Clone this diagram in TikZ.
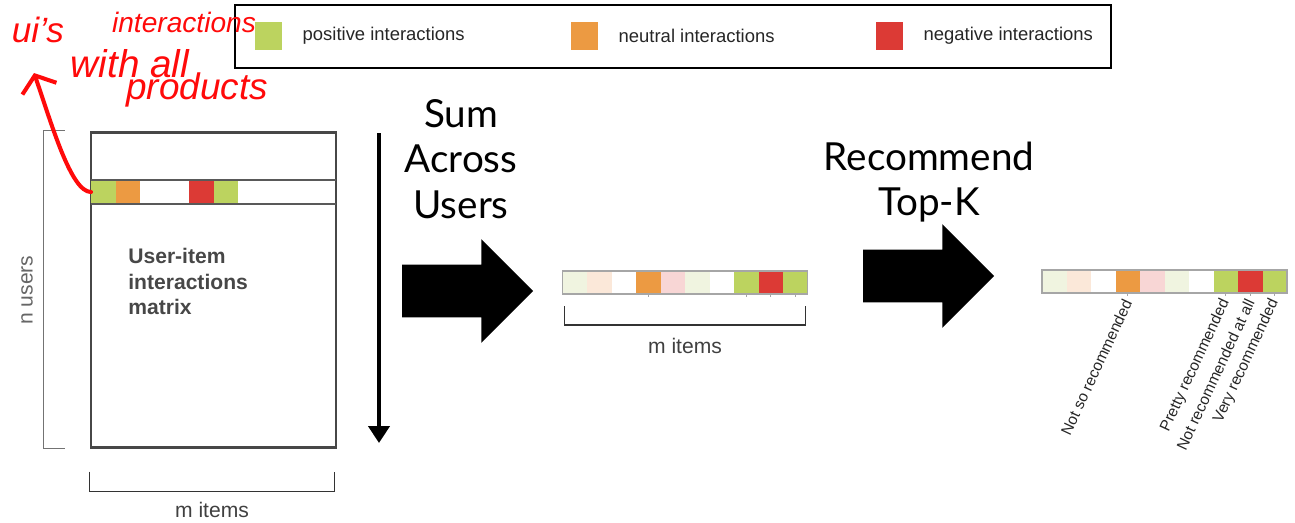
\documentclass[tikz,border=0pt]{standalone}
\usepackage{fontspec}
\setmainfont{Liberation Sans}
\newfontfamily\stepfont{Lato}
\usetikzlibrary{positioning,shapes.arrows,arrows.meta}
\definecolor{posgreen}{HTML}{BCD35F}
\definecolor{neuorange}{HTML}{EC9A42}
\definecolor{negred}{HTML}{DC3A35}
\definecolor{palegreen}{HTML}{F0F4E0}
\definecolor{palepeach}{HTML}{FBE8D9}
\definecolor{palepink}{HTML}{F8D6D5}
\definecolor{framegray}{HTML}{474747}
\definecolor{handred}{HTML}{FF0A0A}
\newcommand{\pxu}{0.02cm}
\newcommand{\fsz}[2]{\fontsize{#1}{#2}\selectfont}

\tikzset{
  swatch/.style={minimum width=27*\pxu, minimum height=28*\pxu, inner sep=0pt},
  legtext/.style={font=\fsz{10.5}{12}, text=black!85, inner sep=0pt, anchor=west},
  cell/.style={minimum width=24.5*\pxu, minimum height=23*\pxu, inner sep=0pt, outer sep=0pt, anchor=west},
  stripbox/.style={minimum width=245*\pxu, minimum height=23*\pxu, inner sep=0pt, outer sep=0pt},
  matbox/.style={draw=framegray, line width=1.7pt, minimum width=245*\pxu, minimum height=315*\pxu, inner sep=0pt},
  rowline/.style={draw=framegray!90, line width=1.1pt},
  barframe/.style={draw=black!35, line width=0.8pt},
  brack/.style={line width=1.1pt, draw=black!80},
  itemtext/.style={font=\fsz{12}{14}, text=black!75},
  steptext/.style={font=\stepfont\fsz{22}{26}, align=center},
  bigarrow/.style={single arrow, fill=black, minimum height=131*\pxu, inner xsep=0pt, inner ysep=26*\pxu,
    single arrow head extend=25.5*\pxu},
  ticklabel/.style={font=\fsz{8.8}{10}, rotate=65, anchor=east, inner sep=0pt, text=black!85},
  hand/.style={text=handred, inner sep=0pt}
}

\begin{document}
\begin{tikzpicture}[x=\pxu, y=-\pxu]
\useasboundingbox (0,0) rectangle (1295,522);

\node[draw, line width=1.1pt, minimum width=876*\pxu, minimum height=63*\pxu, inner sep=0pt] (legend) at (673,36.5) {};
\node[swatch, fill=posgreen] (swpos) at (268.5,36) {};
\node[legtext, right=0.4cm of swpos] (txpos) {positive interactions};
\node[swatch, fill=neuorange] (swneu) at (584.5,36) {};
\node[legtext, right=0.4cm of swneu] (txneu) {neutral interactions};
\node[swatch, fill=negred] (swneg) at (889.5,36) {};
\node[legtext, right=0.4cm of swneg] (txneg) {negative interactions};

\node[matbox] (mat) at (213.5,289.5) {};
\node[stripbox, minimum height=24*\pxu] (row) at (213.5,192) {};
\foreach \c/\i in {posgreen/0,neuorange/1,negred/4,posgreen/5}
  \node[cell, minimum height=24*\pxu, fill=\c, xshift=\i*24.5*\pxu] (u\i) at (row.west) {};
\draw[rowline] (row.north west) -- (row.north east);
\draw[rowline] (row.south west) -- (row.south east);
\node[font=\bfseries\fsz{12}{14.5}, text=framegray, align=left, anchor=north west, inner sep=0pt] (mattext) at (128,248) {User-item\\interactions\\matrix};

\draw[brack, draw=black!55] ([xshift=-25*\pxu]mat.north west) -- ([xshift=-46*\pxu]mat.north west)
  |- ([xshift=-25*\pxu]mat.south west);
\node[itemtext, rotate=90, text=black!60] (nusers) at (27,290) {n users};
\draw[brack] ([yshift=-23*\pxu]mat.south west) -- ([yshift=-43*\pxu]mat.south west)
  -| ([xshift=-3*\pxu, yshift=-23*\pxu]mat.south east);
\node[itemtext] (mitems) at (212,510) {m items};

\coordinate (sumtop) at (379,133);
\coordinate (sumbot) at (379,443);
\draw[line width=2.8pt, -{Triangle[width=0.42cm, length=0.34cm]}] (sumtop) -- (sumbot);
\node[steptext] (sumtext) at (461,159) {Sum\\Across\\Users};
\node[bigarrow] (arrsum) at (454.5,291) {};

\node[stripbox] (sumbar) at (685,282.5) {};
\foreach \c [count=\i from 0] in {palegreen,palepeach,white,neuorange,palepink,palegreen,white,posgreen,negred,posgreen}
  \node[cell, fill=\c, xshift=\i*24.5*\pxu] (s\i) at (sumbar.west) {};
\draw[barframe] (sumbar.north west) rectangle (sumbar.south east);
\foreach \i in {3,7,8,9} \draw[barframe, line width=0.5pt] (s\i.south) -- ++(0,3);
\draw[brack] ([xshift=2*\pxu, yshift=-12*\pxu]sumbar.south west) -- ([xshift=2*\pxu, yshift=-31*\pxu]sumbar.south west)
  -| ([xshift=-2*\pxu, yshift=-12*\pxu]sumbar.south east);
\node[itemtext] (mitems2) at (685,346) {m items};

\node[steptext] (toptext) at (929,182) {Recommend\\Top-K};
\node[bigarrow] (arrtop) at (915.5,276) {};

\node[stripbox] (topbar) at (1164.5,281.5) {};
\foreach \c [count=\i from 0] in {palegreen,palepeach,white,neuorange,palepink,palegreen,white,posgreen,negred,posgreen}
  \node[cell, fill=\c, xshift=\i*24.5*\pxu] (t\i) at (topbar.west) {};
\draw[barframe] (topbar.north west) rectangle (topbar.south east);
\foreach \i in {3,7,8,9} \draw[barframe, line width=0.5pt] (t\i.south) -- ++(0,3);
\node[ticklabel] (lbnotso) at ([yshift=-7*\pxu]t3.south) {Not so recommended};
\node[ticklabel] (lbpretty) at ([yshift=-7*\pxu]t7.south) {Pretty recommended};
\node[ticklabel] (lbnotat) at ([yshift=-7*\pxu]t8.south) {Not recommended at all};
\node[ticklabel] (lbvery) at ([yshift=-7*\pxu]t9.south) {Very recommended};

\node[hand, font=\itshape\fsz{20}{22}] (handui) at (38,30) {ui's};
\node[hand, font=\itshape\fsz{16}{18}] (handint) at (184,22) {interactions};
\node[hand, font=\itshape\fsz{22}{24}] (handwith) at (130,64) {with all};
\node[hand, font=\itshape\fsz{21}{23}] (handprod) at (197,90) {products};
\coordinate (handtip) at (34,73);
\draw[handred, line width=2.3pt, line cap=round, -{Straight Barb[length=0.28cm, width=0.72cm]}]
  (row.west) .. controls +(-20,0) and +(18,52) .. (handtip);
\end{tikzpicture}
\end{document}
